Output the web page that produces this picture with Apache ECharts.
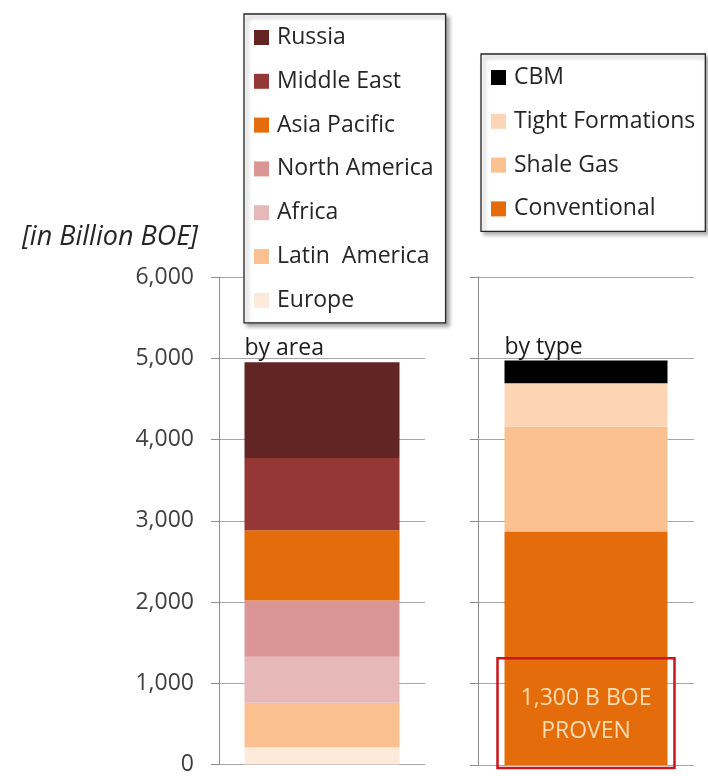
<!DOCTYPE html>
<html>
<head>
<meta charset="utf-8">
<script src="https://cdn.jsdelivr.net/npm/echarts@6/dist/echarts.min.js"></script>
<style>
html, body { margin: 0; padding: 0; background: #fff; }
#main { width: 708px; height: 776px; }
</style>
</head>
<body>
<div id="main"></div>
<script>
// data, top of stack first
var areaNames = ['Russia', 'Middle East', 'Asia Pacific', 'North America', 'Africa', 'Latin  America', 'Europe'];
var areaValues = [1180, 890, 865, 692, 566, 546, 213];
var areaColors = ['#632523', '#953735', '#e46c0a', '#d99694', '#e6b9b8', '#fac090', '#fdeada'];
var typeNames = ['CBM', 'Tight Formations', 'Shale Gas', 'Conventional'];
var typeValues = [278, 533, 1291, 2870];
var typeColors = ['#000000', '#fcd5b5', '#fac090', '#e46c0a'];
var groups = ['by area', 'by type'];
var proven = 1300;
var provenText = ['1,300 B BOE', 'PROVEN'];

var font = 'Open Sans';
var chart = echarts.init(document.getElementById('main'));

function makeSeries(names, values, colors, idx, width) {
    var list = [];
    for (var i = names.length - 1; i >= 0; i--) {
        var s = {
            name: names[i],
            type: 'bar',
            stack: 'g' + idx,
            xAxisIndex: idx,
            yAxisIndex: idx,
            barWidth: width,
            data: [values[i]],
            itemStyle: { color: colors[i] },
            emphasis: { disabled: true }
        };
        if (i === 0) {
            s.label = {
                show: true,
                position: [0, -2],
                align: 'left',
                verticalAlign: 'bottom',
                formatter: groups[idx],
                fontFamily: font,
                fontSize: 23,
                color: '#1a1a1a'
            };
        }
        list.push(s);
    }
    return list;
}

// proven reserves note sits on the conventional bar
var typeSeries = makeSeries(typeNames, typeValues, typeColors, 1, 163);
typeSeries[0].markPoint = {
    symbol: 'rect',
    symbolSize: 1,
    itemStyle: { color: 'transparent' },
    label: {
        show: true,
        position: 'inside',
        offset: [0, 3],
        formatter: provenText.join('\n'),
        fontFamily: font,
        fontSize: 23,
        lineHeight: 33,
        color: '#fcdcb0'
    },
    data: [{ coord: [groups[1], proven / 2] }]
};

function yAxisOf(idx) {
    return {
        type: 'value',
        gridIndex: idx,
        min: 0,
        max: 6000,
        interval: 1000,
        axisLine: { show: true, lineStyle: { color: '#8c8c8c', width: 1 } },
        axisTick: { show: true, length: 8, lineStyle: { color: '#8c8c8c' } },
        axisLabel: {
            show: idx === 0,
            margin: 25,
            fontFamily: font,
            fontSize: 23,
            color: '#404040',
            formatter: function (v) { return v.toLocaleString('en-US'); }
        },
        splitLine: { lineStyle: { color: '#a6a6a6' } }
    };
}

function xAxisOf(idx) {
    return {
        type: 'category',
        gridIndex: idx,
        data: [groups[idx]],
        axisLine: { show: false },
        axisTick: { show: false },
        axisLabel: { show: false }
    };
}

function legendOf(names, left, top, padRight) {
    return {
        orient: 'vertical',
        left: left,
        top: top,
        data: names,
        icon: 'rect',
        itemWidth: 15,
        itemHeight: 15,
        itemGap: 20.8,
        padding: [12, padRight, 11, 10],
        selectedMode: false,
        backgroundColor: '#fff',
        borderColor: '#262626',
        borderWidth: 1.3,
        shadowColor: 'rgba(0,0,0,0.35)',
        shadowBlur: 4,
        shadowOffsetX: 3,
        shadowOffsetY: 3,
        textStyle: {
            fontFamily: font,
            fontSize: 23,
            lineHeight: 22,
            color: '#262626',
            padding: [0, 0, 0, 3]
        }
    };
}

var option = {
    animation: false,
    backgroundColor: '#fff',
    title: {
        text: '[in Billion BOE]',
        left: 17,
        top: 219,
        textStyle: {
            fontFamily: font,
            fontSize: 27,
            fontStyle: 'italic',
            fontWeight: 'normal',
            color: '#262626'
        }
    },
    legend: [
        legendOf(areaNames, 244, 14, 12),
        legendOf(typeNames, 481, 54, 10)
    ],
    grid: [
        { left: 219, right: 283, top: 277, bottom: 11 },
        { left: 478, right: 14, top: 277, bottom: 11 }
    ],
    xAxis: [xAxisOf(0), xAxisOf(1)],
    yAxis: [yAxisOf(0), yAxisOf(1)],
    series: makeSeries(areaNames, areaValues, areaColors, 0, 155).concat(typeSeries)
};

chart.setOption(option);

// red "proven" box drawn from the axis scale
var p0 = chart.convertToPixel({ xAxisIndex: 1, yAxisIndex: 1 }, [groups[1], 0]);
var p1 = chart.convertToPixel({ xAxisIndex: 1, yAxisIndex: 1 }, [groups[1], proven]);
var boxW = 163 + 14;
chart.setOption({
    graphic: [{
        type: 'rect',
        z: 100,
        shape: { x: p0[0] - boxW / 2, y: p1[1] - 1, width: boxW, height: p0[1] - p1[1] + 4 },
        style: { fill: 'none', stroke: '#c8161e', lineWidth: 2.5 }
    }]
});
</script>
</body>
</html>
